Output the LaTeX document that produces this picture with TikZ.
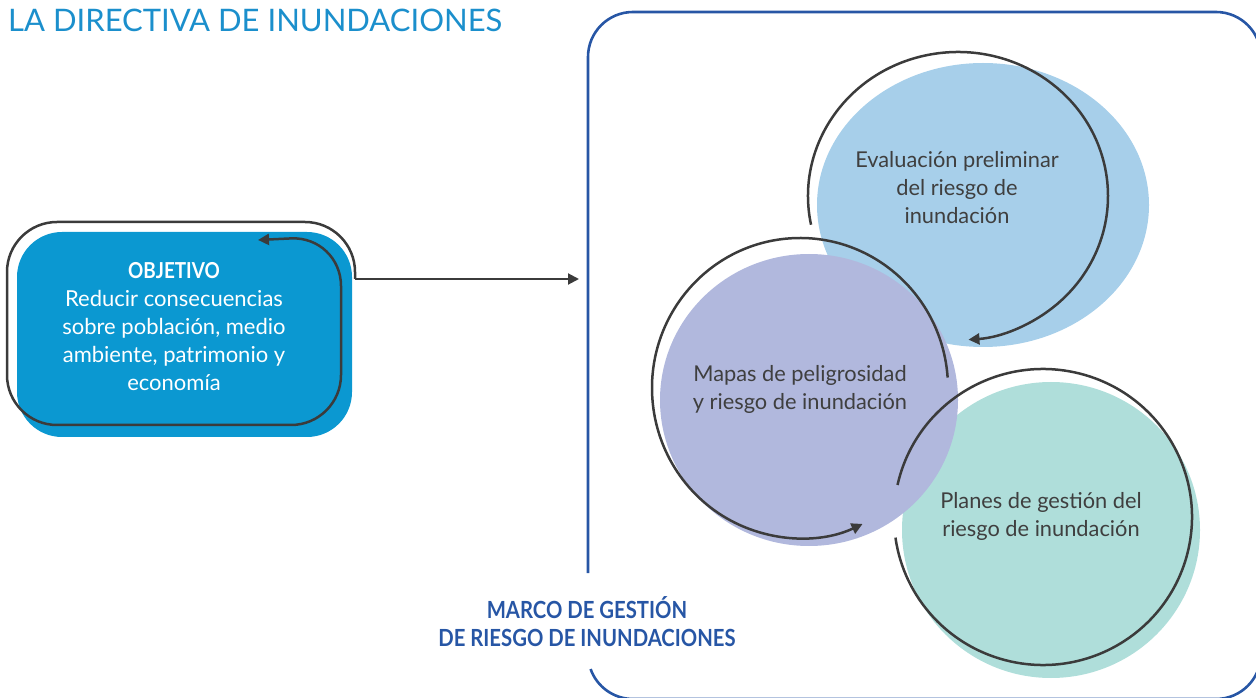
\documentclass[tikz,border=0pt]{standalone}
\usepackage{fontspec}
\setmainfont{Lato}
\newfontfamily\condbold{Lato}[FakeStretch=0.86]
\usetikzlibrary{arrows.meta}
\definecolor{titleblue}{HTML}{1B8FCC}
\definecolor{boxblue}{HTML}{0B98D1}
\definecolor{frameblue}{HTML}{2756A5}
\definecolor{cblue}{HTML}{A7CFEA}
\definecolor{cpurple}{HTML}{B1B8DD}
\definecolor{cteal}{HTML}{AFDEDA}
\definecolor{darkline}{HTML}{3B3B3B}
\definecolor{darktext}{HTML}{3F3F3F}
\tikzset{
  cycleline/.style={draw=darkline, line width=2.5pt},
  tipstyle/.style={-{Triangle[length=11pt,width=11pt]}},
  circtext/.style={align=center, inner sep=0pt, text=darktext, font=\fontsize{21.8}{28}\selectfont},
  framestyle/.style={draw=frameblue, line width=2.6pt}
}
\begin{document}
\begin{tikzpicture}[x=1pt,y=1pt]
\useasboundingbox (0,0) rectangle (1256,697);
\clip (0,0) rectangle (1256,697);
% title
\node[anchor=base west, inner sep=0pt, text=titleblue, font=\fontsize{31}{34}\selectfont] (title) at (8,665) {LA DIRECTIVA DE INUNDACIONES};
% frame
\draw[framestyle] (588,124) -- (588,640) arc[start angle=180, end angle=90, radius=45pt]
  -- (1216,685) arc[start angle=90, end angle=0, radius=45pt]
  -- (1261,43) arc[start angle=0, end angle=-90, radius=45pt]
  -- (633,-2) arc[start angle=270, end angle=199.5, radius=45pt];
\coordinate (frameleft) at (579,418);
% objective box
\fill[boxblue, rounded corners=45pt] (17,260) rectangle (352,465);
\draw[cycleline, tipstyle, rounded corners=50pt] (355,418) -- (355,475) -- (7,475) -- (7,272) -- (341,272) -- (341,461) -- (258,457);
\coordinate (objexit) at (355,418);
\node[align=center, inner sep=0pt, text=white, font=\fontsize{22}{28}\selectfont] (obj) at (174,370)
  {{\condbold\bfseries OBJETIVO}\\Reducir consecuencias\\sobre población, medio\\ambiente, patrimonio y\\economía};
\draw[cycleline, tipstyle, line width=2pt] (objexit) -- (frameleft);
% circle fills
\fill[cblue] (983,492) ellipse [x radius=166pt, y radius=142pt];
\fill[cteal] (1051,167) ellipse [x radius=149pt, y radius=148pt];
\fill[cpurple] (809,297) ellipse [x radius=149pt, y radius=146pt];
% circle outlines
\coordinate (c1) at (958,501);
\coordinate (c2) at (800,309);
\coordinate (c3) at (1043,180);
\draw[cycleline, tipstyle] (c1) ++(191.5:150pt and 144pt) arc[start angle=191.5, end angle=-86, x radius=150pt, y radius=144pt];
\draw[cycleline, tipstyle] (c2) ++(4:148pt and 150pt) arc[start angle=4, end angle=295, x radius=148pt, y radius=150pt];
\draw[cycleline] (c3) ++(167.5:149pt and 148pt) arc[start angle=167.5, end angle=-172, x radius=149pt, y radius=148pt];
% circle texts
\node[circtext] (t1) at (957,509) {Evaluación preliminar\\del riesgo de\\inundación};
\node[circtext] (t2) at (800,308) {Mapas de peligrosidad\\y riesgo de inundación};
\node[circtext] (t3) at (1041,181) {Planes de gestión del\\riesgo de inundación};
% marco
\node[align=center, inner sep=0pt, text=frameblue, font=\condbold\bfseries\fontsize{23.6}{28}\selectfont] (marco) at (587,75)
  {MARCO DE GESTIÓN\\DE RIESGO DE INUNDACIONES};
\end{tikzpicture}
\end{document}
